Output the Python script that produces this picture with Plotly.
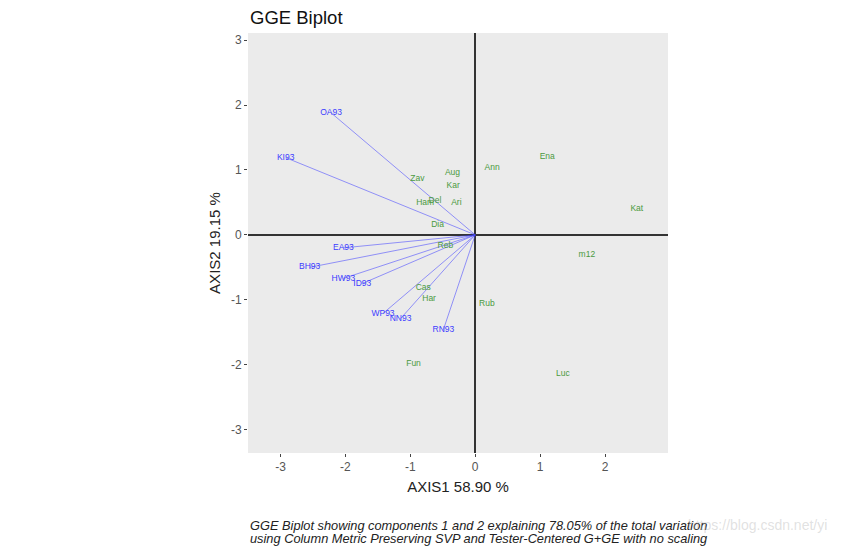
import plotly.graph_objects as go

# Testers (environments)
tester_names = ["OA93", "KI93", "EA93", "BH93", "HW93", "ID93", "WP93", "NN93", "RN93"]
tester_x = [-2.22, -2.92, -2.03, -2.55, -2.03, -1.74, -1.42, -1.15, -0.49]
tester_y = [1.88, 1.19, -0.20, -0.50, -0.67, -0.75, -1.21, -1.29, -1.46]

# Genotypes
gen_names = ["Zav", "Aug", "Kar", "Ham", "Del", "Ari", "Dia", "Ann", "Ena", "Kat",
             "m12", "Reb", "Cas", "Har", "Rub", "Fun", "Luc"]
gen_x = [-0.89, -0.35, -0.34, -0.77, -0.62, -0.29, -0.58, 0.26, 1.11, 2.49,
         1.72, -0.46, -0.80, -0.71, 0.18, -0.95, 1.35]
gen_y = [0.86, 0.95, 0.75, 0.50, 0.53, 0.49, 0.15, 1.03, 1.20, 0.40,
         -0.31, -0.17, -0.81, -0.98, -1.07, -1.98, -2.14]

x_ticks = [-3, -2, -1, 0, 1, 2]
x_ticktext = ["-3", "-2", "-1", "0", "1", "2"]
y_ticks = [-3, -2, -1, 0, 1, 2, 3]
y_ticktext = ["-3", "-2", "-1", "0", "1", "2", "3"]

seg_x, seg_y = [], []
for tx, ty in zip(tester_x, tester_y):
    seg_x += [0, tx, None]
    seg_y += [0, ty, None]

fig = go.Figure()
fig.add_trace(go.Scatter(x=seg_x, y=seg_y, mode="lines",
                         line=dict(color="rgba(70,70,255,0.7)", width=0.8),
                         hoverinfo="skip", showlegend=False))
fig.add_trace(go.Scatter(x=tester_x, y=tester_y, mode="text", text=tester_names,
                         textfont=dict(family="Liberation Sans", size=8.5, color="#3b3bff"),
                         showlegend=False))
fig.add_trace(go.Scatter(x=gen_x, y=gen_y, mode="text", text=gen_names,
                         textfont=dict(family="Liberation Sans", size=8.5, color="#4a9a40"),
                         showlegend=False))

axis_common = dict(showgrid=False, ticks="outside", ticklen=3, tickcolor="#444",
                   tickfont=dict(family="Liberation Sans", size=12, color="#555"),
                   zeroline=True, zerolinecolor="#333", zerolinewidth=1.5,
                   showline=False, mirror=False)

fig.update_layout(
    width=847, height=559,
    margin=dict(l=240, r=187, t=25, b=114),
    paper_bgcolor="white", plot_bgcolor="#EBEBEB",
    font=dict(family="Liberation Sans"),
    xaxis=dict(range=[-3.50, 2.97], tickvals=x_ticks, ticktext=x_ticktext,
               title=dict(text="AXIS1 58.90 %", font=dict(size=15, color="#222"), standoff=8),
               **axis_common),
    yaxis=dict(range=[-3.36, 3.11], tickvals=y_ticks, ticktext=y_ticktext,
               title=dict(text="AXIS2 19.15 %", font=dict(size=15, color="#222"), standoff=6),
               **axis_common),
    annotations=[
        dict(text="GGE Biplot", xref="paper", yref="paper", x=0, y=1, yshift=3,
             xanchor="left", yanchor="bottom", showarrow=False,
             font=dict(size=18.5, color="#111", family="Liberation Sans")),
        dict(text="<i>GGE Biplot showing components 1 and 2 explaining 78.05% of the total variation</i>",
             xref="paper", yref="paper", x=0, y=0, yshift=-63, xanchor="left", yanchor="top",
             align="left", showarrow=False,
             font=dict(size=12.8, color="#222", family="Liberation Sans")),
        dict(text="<i>using Column Metric Preserving SVP and Tester-Centered G+GE with no scaling</i>",
             xref="paper", yref="paper", x=0, y=0, yshift=-76, xanchor="left", yanchor="top",
             align="left", showarrow=False,
             font=dict(size=12.8, color="#222", family="Liberation Sans")),
        dict(text="https://blog.csdn.net/yi", xref="paper", yref="paper", x=1, y=0,
             xshift=18, yshift=-62, xanchor="left", yanchor="top", showarrow=False,
             font=dict(size=14, color="rgba(180,180,180,0.4)", family="Liberation Sans")),
    ],
)

fig.write_html("out.html")
